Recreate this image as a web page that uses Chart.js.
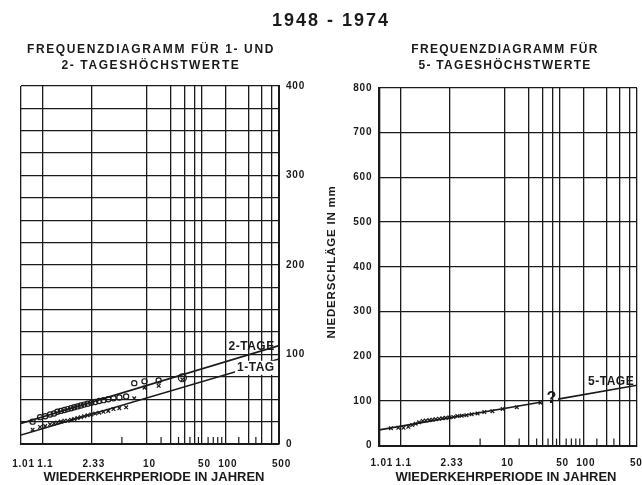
<!DOCTYPE html>
<html>
<head>
<meta charset="utf-8">
<script src="https://cdn.jsdelivr.net/npm/chart.js@4.4.0/dist/chart.umd.min.js"></script>
<style>
  html, body { margin: 0; padding: 0; background: #fff; }
  #page { position: relative; width: 642px; height: 485px; overflow: hidden; background: #fff; }
  canvas { position: absolute; top: 0; }
  .txt { position: absolute; font-family: "Liberation Sans", Arial, sans-serif; font-weight: bold; color: #1a1a1a; white-space: nowrap; text-align: center; }
</style>
</head>
<body>
<div id="page">
  <canvas id="leftChart" style="left:0px" width="321" height="485"></canvas>
  <canvas id="rightChart" style="left:321px" width="321" height="485"></canvas>

  <div class="txt" style="left:231px; top:10px; width:200px; font-size:18px; letter-spacing:2px;">1948 - 1974</div>
  <div class="txt" style="left:1px; top:41px; width:300px; font-size:12px; letter-spacing:1.6px; line-height:16px;">FREQUENZDIAGRAMM FÜR 1- UND<br>2- TAGESHÖCHSTWERTE</div>
  <div class="txt" style="left:355px; top:41px; width:300px; font-size:12px; letter-spacing:1.3px; line-height:16px;">FREQUENZDIAGRAMM FÜR<br>5- TAGESHÖCHSTWERTE</div>
  <div class="txt" style="left:4px; top:469px; width:300px; font-size:13px; letter-spacing:0px;">WIEDERKEHRPERIODE IN JAHREN</div>
  <div class="txt" style="left:356px; top:469px; width:300px; font-size:13px; letter-spacing:0px;">WIEDERKEHRPERIODE IN JAHREN</div>
  <div class="txt" style="left:231px; top:256px; width:200px; font-size:11.5px; letter-spacing:0.8px; transform:rotate(-90deg);">NIEDERSCHLÄGE IN mm</div>
</div>

<script>
// Return periods (years) of the ranked annual maxima 1948-1974, largest first
const returnPeriods = [28, 14, 9.33, 7, 5.6, 4.67, 4, 3.5, 3.11, 2.8, 2.55, 2.33, 2.15, 2,
    1.87, 1.75, 1.65, 1.56, 1.47, 1.4, 1.33, 1.27, 1.22, 1.17, 1.12, 1.08, 1.04];

// Observed maxima in mm
const twoDayMax = [74, 71, 70, 68, 53, 52, 51, 50, 49, 48, 47, 46, 45, 44,
    43, 42, 41, 40, 39, 38, 37, 36, 34, 33, 31, 30, 25];
const oneDayMax = [72, 65, 63, 51, 41, 40, 39, 37, 36, 35, 34, 33, 32, 31,
    30, 29, 28, 27, 26, 26, 25, 24, 23, 22, 20, 19, 16];
const fiveDayMax = [96, 86, 82, 77, 75, 72, 70, 68, 67, 66, 64, 63, 62, 61,
    60, 59, 58, 57, 56, 55, 52, 49, 46, 42, 40, 40, 39];

// Fitted straight lines (return period -> mm)
const twoDayFitT = [1.01, 500];
const twoDayFit = [23, 110];
const oneDayFitT = [1.01, 500];
const oneDayFit = [10, 95];
const fiveDayFitT1 = [1.01, 28];
const fiveDayFit1 = [35, 97];
const fiveDayFitT2 = [47, 500];
const fiveDayFit2 = [104, 135];

// Axis ticks
const gridPeriods = [1.01, 1.1, 2.33, 10, 20, 30, 40, 50, 100, 200, 300, 400, 500];
const labeledPeriods = [1.01, 1.1, 2.33, 10, 50, 100, 500];
const minorPeriods = [5, 15, 25, 35, 45, 60, 70, 80, 90, 150, 250];

const FONT = '"Liberation Sans", Arial, sans-serif';
const INK = '#1a1a1a';

// Gumbel reduced variate for a return period
function gumbel(T) {
    return -Math.log(-Math.log(1 - 1 / T));
}

function toPoints(periods, values) {
    return periods.map((T, i) => ({ x: gumbel(T), y: values[i] }));
}

const spacing = {
    id: 'spacing',
    beforeDraw(chart) {
        chart.ctx.letterSpacing = '0.8px';
    }
};

const minorTicks = {
    id: 'minorTicks',
    afterDraw(chart) {
        const { ctx, chartArea, scales: { x } } = chart;
        ctx.save();
        ctx.strokeStyle = INK;
        ctx.lineWidth = 1.2;
        minorPeriods.forEach(T => {
            const px = x.getPixelForValue(gumbel(T));
            ctx.beginPath();
            ctx.moveTo(px, chartArea.bottom);
            ctx.lineTo(px, chartArea.bottom - 7);
            ctx.stroke();
        });
        ctx.restore();
    }
};

const lineLabels = {
    id: 'lineLabels',
    afterDatasetsDraw(chart, args, opts) {
        const { ctx, scales: { x, y } } = chart;
        (opts.items || []).forEach(item => {
            const pts = chart.data.datasets[item.dataset].data;
            const a = pts[0], b = pts[pts.length - 1];
            const ax = x.getPixelForValue(a.x), ay = y.getPixelForValue(a.y);
            const bx = x.getPixelForValue(b.x), by = y.getPixelForValue(b.y);
            const angle = Math.atan2(by - ay, bx - ax);
            const px = x.getPixelForValue(gumbel(item.period));
            const py = ay + (px - ax) / (bx - ax) * (by - ay);
            ctx.save();
            ctx.translate(px, py);
            ctx.rotate(item.flat ? 0 : angle);
            ctx.font = 'bold ' + item.size + 'px ' + FONT;
            ctx.letterSpacing = '0.5px';
            ctx.textAlign = 'center';
            ctx.textBaseline = 'middle';
            if (item.knockout) {
                const w = ctx.measureText(item.text).width + 4;
                ctx.fillStyle = '#fff';
                ctx.fillRect(-w / 2, item.offset - item.size / 2 - 1, w, item.size + 2);
            }
            ctx.fillStyle = INK;
            ctx.fillText(item.text, 0, item.offset);
            ctx.restore();
        });
    }
};

function xScale(tickPad, height) {
    return {
        type: 'linear',
        min: gumbel(1.01),
        max: gumbel(500),
        afterBuildTicks: scale => {
            scale.ticks = gridPeriods.map(T => ({ value: gumbel(T) }));
        },
        afterFit: scale => {
            scale.height = height;
            scale.paddingLeft = 0;
            scale.paddingRight = 0;
        },
        grid: { color: INK, lineWidth: 1.3, drawTicks: false },
        border: { display: true, color: INK, width: 2 },
        ticks: {
            autoSkip: false,
            maxRotation: 0,
            padding: tickPad,
            labelOffset: 2.5,
            color: INK,
            font: { family: FONT, size: 10, weight: 'bold' },
            callback: (value, index) => {
                const T = gridPeriods[index];
                return labeledPeriods.includes(T) ? String(T) : '';
            }
        }
    };
}

function yScale(position, max, step, width) {
    return {
        type: 'linear',
        position: position,
        min: 0,
        max: max,
        afterBuildTicks: scale => {
            const t = [];
            for (let v = 0; v <= max; v += step) t.push({ value: v });
            scale.ticks = t;
        },
        afterFit: scale => {
            scale.width = width;
            scale.paddingTop = 0;
            scale.paddingBottom = 0;
        },
        grid: { color: INK, lineWidth: 1.3, drawTicks: false },
        border: { display: true, color: INK, width: 2 },
        ticks: {
            padding: 7,
            color: INK,
            font: { family: FONT, size: 10, weight: 'bold' },
            callback: value => (value % 100 === 0 ? String(value) : '')
        }
    };
}

const fitLine = (data) => ({
    type: 'line',
    data: data,
    borderColor: INK,
    borderWidth: 1.7,
    pointRadius: 0,
    fill: false
});

function initializeLeftChart() {
    const ctx = document.getElementById('leftChart').getContext('2d');
    new Chart(ctx, {
        type: 'scatter',
        data: {
            datasets: [
                fitLine(toPoints(twoDayFitT, twoDayFit)),
                fitLine(toPoints(oneDayFitT, oneDayFit)),
                {
                    label: '2-Tage',
                    data: toPoints(returnPeriods, twoDayMax),
                    pointStyle: 'circle',
                    pointRadius: c => (c.dataIndex === 0 ? 4 : 2.6),
                    borderColor: INK,
                    borderWidth: 1.2,
                    backgroundColor: 'rgba(255,255,255,0)'
                },
                {
                    label: '1-Tag',
                    data: toPoints(returnPeriods, oneDayMax),
                    pointStyle: 'crossRot',
                    pointRadius: 2.6,
                    borderColor: INK,
                    borderWidth: 1.2
                }
            ]
        },
        options: {
            responsive: false,
            animation: false,
            events: [],
            layout: { autoPadding: false, padding: { left: 21, top: 86, right: 0, bottom: 0 } },
            plugins: {
                legend: { display: false },
                tooltip: { enabled: false },
                lineLabels: {
                    items: [
                        { dataset: 0, period: 220, text: '2-TAGE', size: 12, offset: -7.5 },
                        { dataset: 1, period: 250, text: '1-TAG', size: 12, offset: 2, knockout: true }
                    ]
                }
            },
            scales: {
                x: xScale(14, 41),
                y: yScale('right', 400, 25, 42)
            }
        },
        plugins: [spacing, minorTicks, lineLabels]
    });
}

function initializeRightChart() {
    const ctx = document.getElementById('rightChart').getContext('2d');
    new Chart(ctx, {
        type: 'scatter',
        data: {
            datasets: [
                fitLine(toPoints(fiveDayFitT1, fiveDayFit1)),
                fitLine(toPoints(fiveDayFitT2, fiveDayFit2)),
                {
                    label: '5-Tage',
                    data: toPoints(returnPeriods, fiveDayMax),
                    pointStyle: 'crossRot',
                    pointRadius: 2.6,
                    borderColor: INK,
                    borderWidth: 1.2
                }
            ]
        },
        options: {
            responsive: false,
            animation: false,
            events: [],
            layout: { autoPadding: false, padding: { left: 0, top: 88, right: 5, bottom: 0 } },
            plugins: {
                legend: { display: false },
                tooltip: { enabled: false },
                lineLabels: {
                    items: [
                        { dataset: 1, period: 230, text: '5-TAGE', size: 12, offset: -8 },
                        { dataset: 0, period: 39, text: '?', size: 16, offset: -2, flat: true }
                    ]
                }
            },
            scales: {
                x: xScale(12, 39.4),
                y: yScale('left', 800, 100, 58.3)
            }
        },
        plugins: [spacing, minorTicks, lineLabels]
    });
}

document.addEventListener('DOMContentLoaded', () => {
    initializeLeftChart();
    initializeRightChart();
});
</script>
</body>
</html>
